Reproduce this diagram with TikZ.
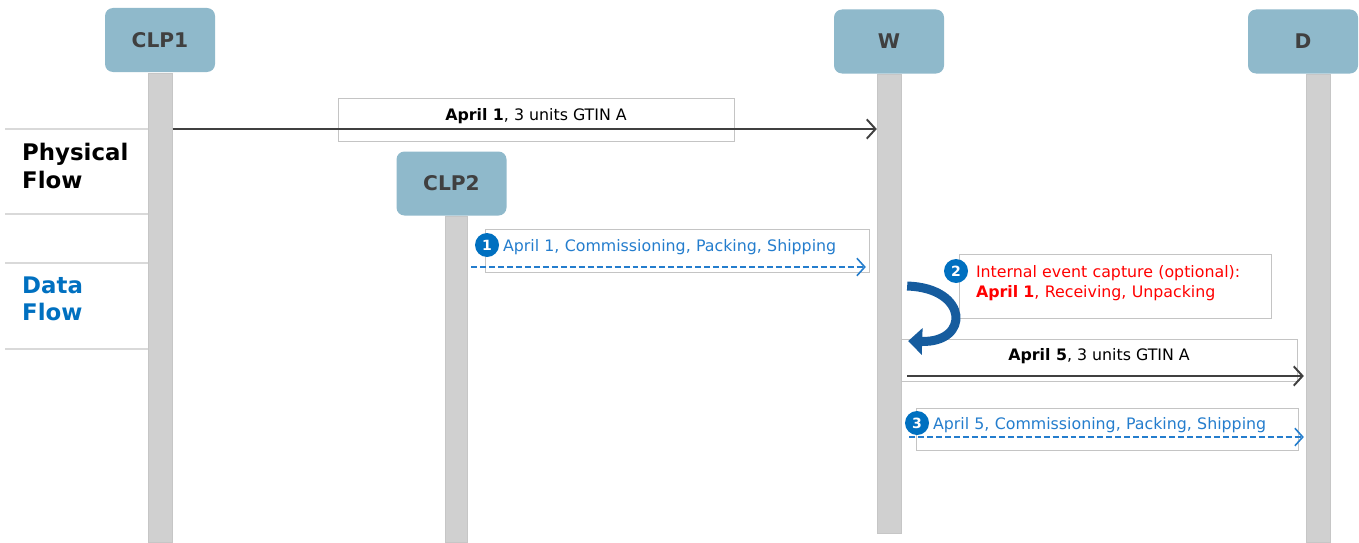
\documentclass[tikz,border=0pt]{standalone}
\usepackage{fontspec}
\setmainfont{DejaVu Sans}
\usetikzlibrary{arrows.meta}
\definecolor{entete}{RGB}{143,185,203}
\definecolor{barre}{RGB}{208,208,208}
\definecolor{bleu}{RGB}{0,112,192}
\definecolor{bleuclair}{RGB}{36,125,205}
\definecolor{bleufonce}{RGB}{22,92,158}
\definecolor{cadre}{RGB}{196,196,196}
\definecolor{sep}{RGB}{217,217,217}
\definecolor{gris}{RGB}{64,64,64}

\begin{document}
\begin{tikzpicture}[x=0.2mm,y=-0.2mm,
	acteur/.style={rectangle, rounded corners=1.6mm, fill=entete, minimum width=22mm, minimum height=12.8mm, text=gris, font=\fontsize{11.5}{14}\selectfont\bfseries},
	vie/.style={rectangle, fill=barre, draw=barre!95!black, line width=0.2pt, minimum width=4.8mm, inner sep=0pt},
	etiquette/.style={rectangle, draw=cadre, line width=0.4pt, inner sep=0pt, font=\fontsize{9}{11.4}\selectfont, text depth=2.2mm},
	puce/.style={circle, fill=bleu, text=white, minimum size=4.8mm, inner sep=0pt, font=\fontsize{8}{9}\selectfont\bfseries},
	titre/.style={anchor=west, align=left, font=\fontsize{13}{15.4}\selectfont\bfseries},
	physique/.style={draw=gris, line width=1.1pt, -{Straight Barb[length=5pt,width=11pt]}},
	donnees/.style={draw=bleuclair, line width=0.9pt, dash pattern=on 3.4pt off 1.7pt, -{Straight Barb[length=4.5pt,width=10pt]}},
	boucle/.style={draw=bleufonce, line width=1.8mm, -{Triangle[length=2.8mm,width=5.2mm]}}
]
	\useasboundingbox (0,0) rectangle (1359,542);
	% lignes de vie et acteurs
	\node (clp1bar) at (160.5,307.5) [vie, minimum height=93.8mm] {};
	\node (clp2bar) at (456,379) [vie, minimum width=4.4mm, minimum height=65.2mm] {};
	\node (wbar) at (889,303.5) [vie, minimum height=91.8mm] {};
	\node (dbar) at (1318,308) [vie, minimum height=93.6mm] {};
	\node (clp1) at (160,40) [acteur] {CLP1};
	\node (clp2) at (451.5,183.5) [acteur] {CLP2};
	\node (w) at (889,41.5) [acteur] {W};
	\node (d) at (1303,41.5) [acteur] {D};

	% colonne de gauche
	\foreach \y in {129,214,263,349}
		\draw[sep, line width=0.6pt] (5,\y) -- (148,\y);
	\node (physflow) at (16,166) [titre] {Physical\\Flow};
	\node (dataflow) at (16,299) [titre, text=bleu] {Data\\Flow};

	% cadres des messages
	\node (etiqA) at (536,119.5) [etiquette, minimum width=79.2mm, minimum height=8.6mm] {\textbf{April 1}, 3 units GTIN A};
	\node (etiqB) at (677,250.5) [etiquette, minimum width=76.8mm, minimum height=8.6mm, text width=69.6mm, align=left, text=bleuclair] {April 1, Commissioning, Packing, Shipping};
	\node (etiqC) at (1115,286) [etiquette, minimum width=62.4mm, minimum height=12.8mm, text width=55.6mm, text=red, align=left, text height=2.4mm, text depth=6mm] {Internal event capture (optional):\\\textbf{April 1}, Receiving, Unpacking};
	\node (etiqD) at (1099,360) [etiquette, minimum width=79.2mm, minimum height=8.4mm] {\textbf{April 5}, 3 units GTIN A};
	\node (etiqE) at (1107,429) [etiquette, minimum width=76.4mm, minimum height=8.4mm, text width=69.6mm, align=left, text=bleuclair] {April 5, Commissioning, Packing, Shipping};

	\coordinate (m1) at (0,129);
	\coordinate (m2) at (0,267);
	\coordinate (m3) at (0,376);
	\coordinate (m4) at (0,437);
	\coordinate (m5) at (0,286);
	\coordinate (m6) at (0,341);

	% fleches
	\draw[physique] (clp1bar.east |- m1) -- (wbar.west |- m1);
	\draw[donnees] ([xshift=0.8mm]clp2bar.east |- m2) -- ([xshift=-2.2mm]wbar.west |- m2);
	\draw[physique] ([xshift=1.2mm]wbar.east |- m3) -- ([xshift=-0.4mm]dbar.west |- m3);
	\draw[donnees] ([xshift=1.6mm]wbar.east |- m4) -- ([xshift=-0.4mm]dbar.west |- m4);
	\draw[boucle] ([xshift=1.2mm]wbar.east |- m5) .. controls +(62,2) and +(62,2) .. ([xshift=1.4mm]wbar.east |- m6);

	% numeros
	\node (n1) at (487,245) [puce] {1};
	\node (n2) at (956,271) [puce] {2};
	\node (n3) at (917,423) [puce] {3};
\end{tikzpicture}
\end{document}
